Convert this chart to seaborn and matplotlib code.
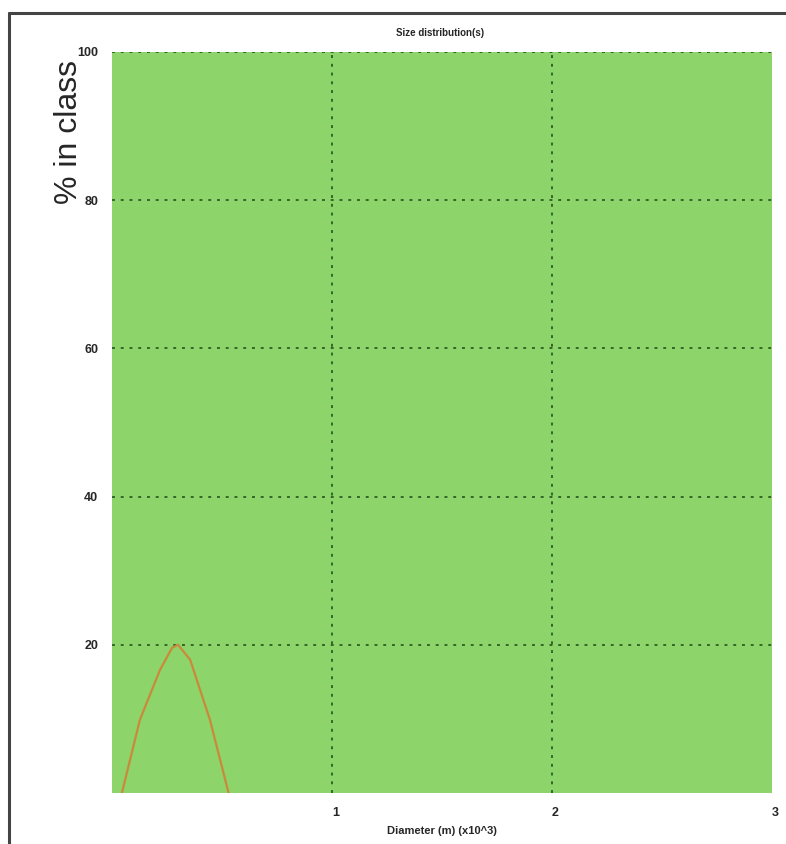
import matplotlib
matplotlib.use("Agg")
import matplotlib.pyplot as plt
from matplotlib.lines import Line2D
import seaborn as sns
import pandas as pd

diameter = [0.045, 0.127, 0.218, 0.273, 0.30, 0.355, 0.445, 0.53]
pct_in_class = [0.0, 9.9, 16.6, 19.6, 20.0, 18.0, 9.9, 0.0]
x_ticks = [1, 2, 3]
y_ticks = [20, 40, 60, 80, 100]

df = pd.DataFrame({"d": diameter, "p": pct_in_class})

sns.set_style("white")
plt.rcParams['font.family'] = ['Liberation Sans', 'DejaVu Sans']

fig = plt.figure(figsize=(7.86, 8.44), dpi=100)
ax = fig.add_axes([112/786, 1-793/844, (772-112)/786, (793-52)/844])
ax.set_facecolor("#8dd46b")

sns.lineplot(data=df, x="d", y="p", ax=ax, color="#c98a3c", linewidth=1.6, sort=False)

ax.set_xlim(0, 3)
ax.set_ylim(0, 100)
ax.set_xticks(x_ticks)
ax.set_yticks(y_ticks)
ax.set_xticklabels([str(t) for t in x_ticks], fontsize=9, fontweight="bold")
ax.set_yticklabels([str(t) for t in y_ticks], fontsize=9, fontweight="bold")
ax.tick_params(axis="x", length=0, pad=10)
ax.tick_params(axis="y", length=0, pad=10)
for lbl in ax.get_xticklabels():
    lbl.set_horizontalalignment("left")
ax.grid(True, color="#356428", linestyle=(0, (1.5, 3)), linewidth=1.4)
ax.xaxis.get_gridlines()[-1].set_visible(False)
for s in ax.spines.values():
    s.set_visible(False)

ax.set_xlabel("Diameter (m) (x10^3)", fontsize=8, fontweight="bold", labelpad=5)
ax.set_ylabel("")
fig.text(69/786, 1-132/844, "% in class", rotation=90, fontsize=23,
         ha="center", va="center")
fig.text(440/786, 1-33/844, "Size distribution(s)", fontsize=7, fontweight="bold",
         ha="center", va="center")

fig.add_artist(Line2D([9/786, 9/786], [0, 1-13/844], color="#444444", linewidth=2.2))
fig.add_artist(Line2D([9/786, 1], [1-13/844, 1-13/844], color="#444444", linewidth=2.2))

fig.savefig("out.png", dpi=100, facecolor="white")
